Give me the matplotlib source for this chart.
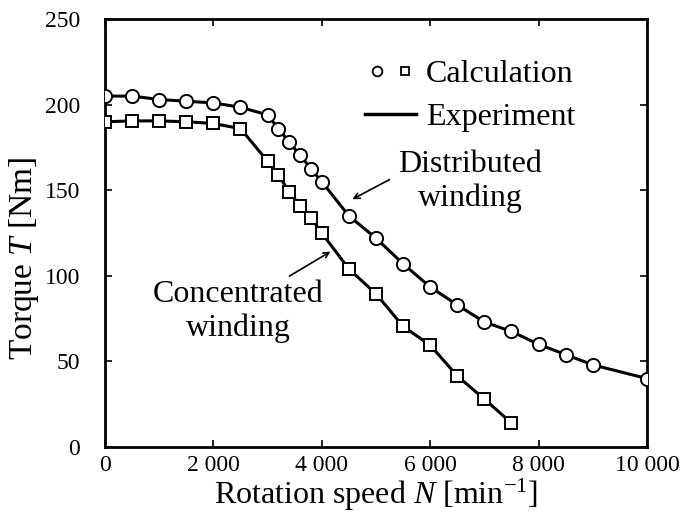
'''
Torque vs rotation speed
distributed / concentrated winding
'''
# import packages
import matplotlib
matplotlib.use("Agg")
import matplotlib.pyplot as plt
from matplotlib.legend_handler import HandlerTuple
from matplotlib.lines import Line2D
from matplotlib.ticker import FuncFormatter


# init data
SPEED_DIST = [0, 500, 1000, 1500, 2000, 2500, 3000, 3200, 3400, 3600, 3800, 4000,
              4500, 5000, 5500, 6000, 6500, 7000, 7500, 8000, 8500, 9000, 10000]
TORQUE_DIST = [205, 205, 203, 202, 201, 198.5, 194, 186, 178, 170.5, 162.5, 155,
               135, 122, 107, 93.5, 83, 73, 67.5, 60, 54, 48, 40]

SPEED_CONC = [0, 500, 1000, 1500, 2000, 2500, 3000, 3200, 3400, 3600, 3800, 4000,
              4500, 5000, 5500, 6000, 6500, 7000, 7500]
TORQUE_CONC = [190, 190.5, 190.5, 190, 189, 186, 167, 159, 149, 141, 134, 125,
               104, 89.5, 70.5, 59.5, 41.5, 28, 14]

X_TICKS = [0, 2000, 4000, 6000, 8000, 10000]
Y_TICKS = [0, 50, 100, 150, 200, 250]
LEGEND_LABELS = ['Calculation', 'Experiment']


# set fonts
plt.rcParams['font.family'] = ['Liberation Serif', 'DejaVu Serif']
plt.rcParams['mathtext.fontset'] = 'custom'
plt.rcParams['mathtext.rm'] = 'Liberation Serif'
plt.rcParams['mathtext.it'] = 'Liberation Serif:italic'


def plot_torque():
    # init figure
    fig = plt.figure(figsize=(6.89, 5.15), dpi=100)
    ax = fig.add_axes([0.1524, 0.132, 0.7866, 0.831])

    # plot curves
    ax.plot(SPEED_DIST, TORQUE_DIST, 'k-', linewidth=2.2, marker='o', markersize=9.5,
            markerfacecolor='white', markeredgecolor='black', markeredgewidth=1.4, zorder=3)
    ax.plot(SPEED_CONC, TORQUE_CONC, 'k-', linewidth=2.2, marker='s', markersize=8,
            markerfacecolor='white', markeredgecolor='black', markeredgewidth=1.4, zorder=3)

    # axes range and ticks
    ax.set_xlim(0, 10000)
    ax.set_ylim(0, 250)
    ax.set_xticks(X_TICKS)
    ax.set_yticks(Y_TICKS)
    ax.xaxis.set_major_formatter(FuncFormatter(lambda v, p: f'{int(v):,}'.replace(',', ' ')))
    ax.tick_params(direction='in', top=True, right=True, length=5, width=1.2,
                   labelsize=17)
    ax.tick_params(axis='x', pad=6)
    ax.tick_params(axis='y', pad=18)
    for spine in ax.spines.values():
        spine.set_linewidth(2)

    # labels
    ax.set_xlabel(r'Rotation speed $N$ [min$^{-1}$]', fontsize=23, labelpad=0)
    ax.set_ylabel(r'Torque $T$ [Nm]', fontsize=24)
    ax.yaxis.set_label_coords(-0.118, 0.44)

    # legend
    circ = Line2D([], [], linestyle='none', marker='o', markersize=7,
                  markerfacecolor='white', markeredgecolor='black', markeredgewidth=1.3)
    sq = Line2D([], [], linestyle='none', marker='s', markersize=6,
                markerfacecolor='white', markeredgecolor='black', markeredgewidth=1.3)
    line = Line2D([], [], color='black', linewidth=2.5)
    ax.legend(handles=[(circ, sq), line], labels=LEGEND_LABELS,
              handler_map={tuple: HandlerTuple(ndivide=None, pad=0.15)},
              loc='upper left', bbox_to_anchor=(0.48, 0.905), frameon=False,
              fontsize=23, borderpad=0, borderaxespad=0, handlelength=1.6,
              handletextpad=0.3, labelspacing=0.42)

    # annotations
    ax.text(6734, 155, 'Distributed\nwinding', fontsize=23, ha='center', va='center',
            linespacing=1.2)
    ax.annotate('', xy=(4520, 144), xytext=(5295, 157),
                arrowprops=dict(arrowstyle='->', lw=1.2, color='black'))
    ax.text(2454, 79, 'Concentrated\nwinding', fontsize=23, ha='center', va='center',
            linespacing=1.2)
    ax.annotate('', xy=(4207, 115), xytext=(3358, 99),
                arrowprops=dict(arrowstyle='->', lw=1.2, color='black'))

    fig.savefig('out.png', dpi=100)


def main():
    plot_torque()


if __name__ == "__main__":
    main()
